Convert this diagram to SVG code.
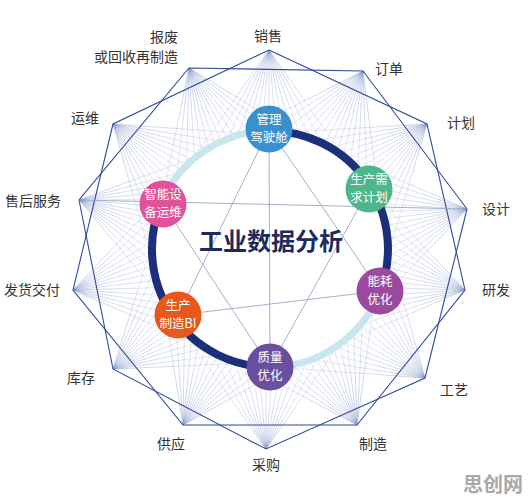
<svg xmlns="http://www.w3.org/2000/svg" xmlns:xlink="http://www.w3.org/1999/xlink" width="530" height="504" viewBox="0 0 530 504">
<style>
.lbl{font-family:"Noto Sans CJK SC","Noto Sans",sans-serif;font-size:14px;fill:#333}
.nt{font-family:"Noto Sans CJK SC","Noto Sans",sans-serif;font-size:12.5px;fill:#fff;text-anchor:middle}
.title{font-family:"Noto Sans CJK SC","Noto Sans",sans-serif;font-size:24px;font-weight:bold;fill:#1d2b5c;text-anchor:middle}
.star{fill:none;stroke:#2f4b9b;stroke-width:1.1;stroke-linejoin:miter}
.hex{stroke:#8d9cc4;stroke-width:0.8;fill:none}
.fan line{stroke:url(#fg);stroke-width:0.55}
.dark{fill:none;stroke:#1b2f7a;stroke-width:8}
.light{fill:none;stroke:#c8e6ee;stroke-width:7}
</style>
<defs>
<linearGradient id="fg" gradientUnits="userSpaceOnUse" x1="0" y1="0" x2="0" y2="110">
<stop offset="0" stop-color="#7d92c8" stop-opacity="0.75"/>
<stop offset="1" stop-color="#c9d2e8" stop-opacity="0.55"/>
</linearGradient>
<g id="fan" class="fan">
<line x1="0" y1="0" x2="0" y2="82"/>
<line x1="0" y1="0" x2="7.2" y2="82.2"/>
<line x1="0" y1="0" x2="-7.2" y2="82.2"/>
<line x1="0" y1="0" x2="14.6" y2="82.9"/>
<line x1="0" y1="0" x2="-14.6" y2="82.9"/>
<line x1="0" y1="0" x2="22.6" y2="84.2"/>
<line x1="0" y1="0" x2="-22.6" y2="84.2"/>
<line x1="0" y1="0" x2="31.4" y2="86.2"/>
<line x1="0" y1="0" x2="-31.4" y2="86.2"/>
<line x1="0" y1="0" x2="41.8" y2="89.7"/>
<line x1="0" y1="0" x2="-41.8" y2="89.7"/>
<line x1="0" y1="0" x2="55.3" y2="95.8"/>
<line x1="0" y1="0" x2="-55.3" y2="95.8"/>
<line x1="0" y1="0" x2="78" y2="111.4"/>
<line x1="0" y1="0" x2="-78" y2="111.4"/>
</g>
</defs>
<rect width="530" height="504" fill="#fff"/>
<g id="connectors">
<use xlink:href="#fan" transform="translate(269,50) rotate(0)"/>
<use xlink:href="#fan" transform="translate(363,71) rotate(28)"/>
<use xlink:href="#fan" transform="translate(427,124) rotate(51.6)"/>
<use xlink:href="#fan" transform="translate(467,209) rotate(78.4)"/>
<use xlink:href="#fan" transform="translate(465,290) rotate(101.5)"/>
<use xlink:href="#fan" transform="translate(425,378) rotate(129.2)"/>
<use xlink:href="#fan" transform="translate(357,425) rotate(153)"/>
<use xlink:href="#fan" transform="translate(266,449) rotate(180)"/>
<use xlink:href="#fan" transform="translate(183,425) rotate(205.9)"/>
<use xlink:href="#fan" transform="translate(113,369) rotate(232.5)"/>
<use xlink:href="#fan" transform="translate(73,290) rotate(258.4)"/>
<use xlink:href="#fan" transform="translate(79,200) rotate(284.8)"/>
<use xlink:href="#fan" transform="translate(113,124) rotate(309.1)"/>
<use xlink:href="#fan" transform="translate(189,68) rotate(336.5)"/>
<polygon class="star" points="269,50 427,124 465,290 357,425 183,425 73,290 113,124"/>
<polygon class="star" points="363,71 467,209 425,378 266,449 113,369 79,200 189,68"/>
<line class="hex" x1="79" y1="200" x2="467" y2="209"/>
<line class="hex" x1="269" y1="129" x2="270" y2="367"/>
<line class="hex" x1="269" y1="129" x2="178" y2="315"/>
<line class="hex" x1="269" y1="129" x2="380" y2="291"/>
<line class="hex" x1="178" y1="315" x2="380" y2="291"/>
<line class="hex" x1="163" y1="204" x2="270" y2="367"/>
<line class="hex" x1="369" y1="189" x2="270" y2="367"/>
<path class="dark" d="M270,131 A118,118 0 0 1 380.2,291.1"/>
<path class="light" d="M380.2,291.1 A118,118 0 0 1 270,367"/>
<path class="dark" d="M270,367 A118,118 0 0 1 161.2,203.3"/>
<path class="light" d="M161.2,203.3 A118,118 0 0 1 270,131"/>
</g>
<g id="title"><text class="title" x="271" y="250">工业数据分析</text></g>
<g id="n-guanli"><circle cx="269" cy="129" r="23.5" fill="#3a8fd0"/><text class="nt" x="269" y="123.5">管理</text><text class="nt" x="269" y="142">驾驶舱</text></g>
<g id="n-xuqiu"><circle cx="369" cy="189" r="23.5" fill="#4fb58b"/><text class="nt" x="369" y="183.5">生产需</text><text class="nt" x="369" y="202">求计划</text></g>
<g id="n-nenghao"><circle cx="380" cy="291" r="23.5" fill="#9b4aa0"/><text class="nt" x="380" y="285.5">能耗</text><text class="nt" x="380" y="304">优化</text></g>
<g id="n-zhiliang"><circle cx="270" cy="367" r="23.5" fill="#6a4fa0"/><text class="nt" x="270" y="361.5">质量</text><text class="nt" x="270" y="380">优化</text></g>
<g id="n-bi"><circle cx="178" cy="315" r="23.5" fill="#e8571c"/><text class="nt" x="178" y="309.5">生产</text><text class="nt" x="178" y="328">制造BI</text></g>
<g id="n-yunwei"><circle cx="163" cy="204" r="23.5" fill="#e0529a"/><text class="nt" x="163" y="198.5">智能设</text><text class="nt" x="163" y="217">备运维</text></g>
<g id="l-xiaoshou"><text class="lbl" x="268" y="41" text-anchor="middle">销售</text></g>
<g id="l-dingdan"><text class="lbl" x="375" y="74">订单</text></g>
<g id="l-jihua"><text class="lbl" x="447" y="128">计划</text></g>
<g id="l-sheji"><text class="lbl" x="482" y="214">设计</text></g>
<g id="l-yanfa"><text class="lbl" x="482" y="295">研发</text></g>
<g id="l-gongyi"><text class="lbl" x="440" y="395">工艺</text></g>
<g id="l-zhizao"><text class="lbl" x="359" y="449">制造</text></g>
<g id="l-caigou"><text class="lbl" x="266" y="470" text-anchor="middle">采购</text></g>
<g id="l-gongying"><text class="lbl" x="157" y="449">供应</text></g>
<g id="l-kucun"><text class="lbl" x="67" y="383">库存</text></g>
<g id="l-fahuo"><text class="lbl" x="4" y="295">发货交付</text></g>
<g id="l-shouhou"><text class="lbl" x="5" y="206">售后服务</text></g>
<g id="l-yunwei"><text class="lbl" x="71" y="123">运维</text></g>
<g id="l-baofei"><text class="lbl" x="178" y="42" text-anchor="end">报废</text><text class="lbl" x="178" y="62" text-anchor="end">或回收再制造</text></g>
<g id="watermark"><text x="463" y="492" font-family="'Noto Sans CJK SC','Noto Sans',sans-serif" font-size="20" font-weight="bold" fill="#a8a8a8">思创网</text></g>
</svg>
